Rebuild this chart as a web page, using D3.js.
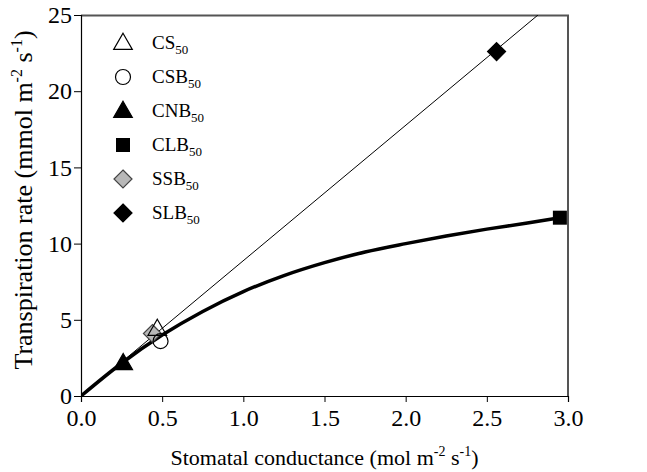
<!DOCTYPE html>
<html>
<head>
<meta charset="utf-8">
<script src="https://cdn.jsdelivr.net/npm/d3@7"></script>
<style>
body { margin: 0; background: #fff; }
text { font-family: "Liberation Serif", "Times New Roman", serif; fill: #000; }
</style>
</head>
<body>
<svg width="647" height="472"></svg>
<script>
// legend / series names
var names = ["CS", "CSB", "CNB", "CLB", "SSB", "SLB"];
var shapes = ["triangleOpen", "circleOpen", "triangle", "square", "diamondGray", "diamond"];
// measured points (conductance, transpiration)
var pointX = [0.47, 0.49, 0.26, 2.95, 0.44, 2.56];
var pointY = [4.4, 3.6, 2.15, 11.7, 4.1, 22.6];
// thin straight line
var lineX = [0, 2.815];
var lineY = [0, 25];
// thick saturating curve
var curveX = [0, 0.25, 0.5, 0.75, 1.0, 1.25, 1.5, 1.75, 2.0, 2.25, 2.5, 2.75, 2.95];
var curveY = [0, 2.15, 4.0, 5.55, 6.85, 7.9, 8.75, 9.45, 10.0, 10.5, 10.95, 11.35, 11.7];
var xTicks = [0, 0.5, 1.0, 1.5, 2.0, 2.5, 3.0];
var yTicks = [0, 5, 10, 15, 20, 25];

var svg = d3.select("svg"),
    margin = {top: 15, right: 79, bottom: 76, left: 81},
    width = +svg.attr("width") - margin.left - margin.right,
    height = +svg.attr("height") - margin.top - margin.bottom,
    g = svg.append("g").attr("transform", "translate(" + margin.left + "," + margin.top + ")");

var x = d3.scaleLinear().domain([0, 3]).range([0, width]);
var y = d3.scaleLinear().domain([0, 25]).range([height, 0]);

svg.append("defs").append("clipPath").attr("id", "clip")
    .append("rect").attr("width", width).attr("height", height);

// frame (top and right)
g.append("path")
    .attr("d", "M0,0.5H" + width + "V" + height)
    .attr("fill", "none").attr("stroke", "#555").attr("stroke-width", 2);

var xAxis = g.append("g")
    .attr("transform", "translate(0," + height + ")")
    .call(d3.axisBottom(x).tickValues(xTicks).tickFormat(d3.format(".1f")).tickSize(6).tickPadding(7));
var yAxis = g.append("g")
    .call(d3.axisLeft(y).tickValues(yTicks).tickSize(7).tickPadding(2));

[xAxis, yAxis].forEach(function(a) {
  a.select(".domain").attr("stroke", "#000").attr("stroke-width", 1.2);
  a.selectAll(".tick line").attr("stroke", "#000");
  a.selectAll(".tick text").style("font-size", "24px").style("font-family", "Liberation Serif");
});

var plot = g.append("g").attr("clip-path", "url(#clip)");

var line = d3.line()
    .x(function(d) { return x(d[0]); })
    .y(function(d) { return y(d[1]); });

plot.append("path")
    .attr("d", line(d3.zip(lineX, lineY)))
    .attr("fill", "none").attr("stroke", "#000").attr("stroke-width", 1);

plot.append("path")
    .attr("d", line.curve(d3.curveMonotoneX)(d3.zip(curveX, curveY)))
    .attr("fill", "none").attr("stroke", "#000").attr("stroke-width", 3.5);

function drawSymbol(sel, kind) {
  if (kind === "triangleOpen" || kind === "triangle") {
    sel.append("path").attr("d", d3.symbol(d3.symbolTriangle, 150)())
      .attr("transform", "translate(0,1)")
      .attr("fill", kind === "triangle" ? "#000" : "none")
      .attr("stroke", "#000").attr("stroke-width", 1.2);
  } else if (kind === "circleOpen") {
    sel.append("circle").attr("r", 7.5).attr("fill", "none").attr("stroke", "#000").attr("stroke-width", 1.2);
  } else if (kind === "square") {
    sel.append("rect").attr("x", -7).attr("y", -7).attr("width", 14).attr("height", 14).attr("fill", "#000");
  } else {
    sel.append("path").attr("d", "M0,-9L9,0L0,9L-9,0Z")
      .attr("fill", kind === "diamondGray" ? "#b8b8b8" : "#000")
      .attr("stroke", kind === "diamondGray" ? "#444" : "#000").attr("stroke-width", 1.2);
  }
}

// draw order: gray diamond under triangle / circle as in reference
var order = [2, 4, 0, 1, 3, 5];
order.forEach(function(i) {
  var s = g.append("g").attr("transform", "translate(" + x(pointX[i]) + "," + y(pointY[i]) + ")");
  drawSymbol(s, shapes[i]);
});

// legend
var legend = svg.append("g");
names.forEach(function(n, i) {
  var row = legend.append("g").attr("transform", "translate(123," + (43 + i * 34) + ")");
  drawSymbol(row, shapes[i]);
  var t = row.append("text").attr("x", 29).attr("y", 6).style("font-size", "19px");
  t.append("tspan").text(n);
  t.append("tspan").attr("dy", 5).style("font-size", "13px").text("50");
});

// axis titles
var xt = svg.append("text")
    .attr("x", margin.left + width / 2).attr("y", 465)
    .attr("text-anchor", "middle").style("font-size", "22px");
xt.append("tspan").text("Stomatal conductance (mol m");
xt.append("tspan").attr("dy", -9).style("font-size", "14px").text("-2");
xt.append("tspan").attr("dy", 9).text(" s");
xt.append("tspan").attr("dy", -9).style("font-size", "14px").text("-1");
xt.append("tspan").attr("dy", 9).text(")");

var yt = svg.append("text")
    .attr("transform", "translate(32,200) rotate(-90)")
    .attr("text-anchor", "middle").style("font-size", "26px");
yt.append("tspan").text("Transpiration rate (mmol m");
yt.append("tspan").attr("dy", -10).style("font-size", "16px").text("-2");
yt.append("tspan").attr("dy", 10).text(" s");
yt.append("tspan").attr("dy", -10).style("font-size", "16px").text("-1");
yt.append("tspan").attr("dy", 10).text(")");
</script>
</body>
</html>
